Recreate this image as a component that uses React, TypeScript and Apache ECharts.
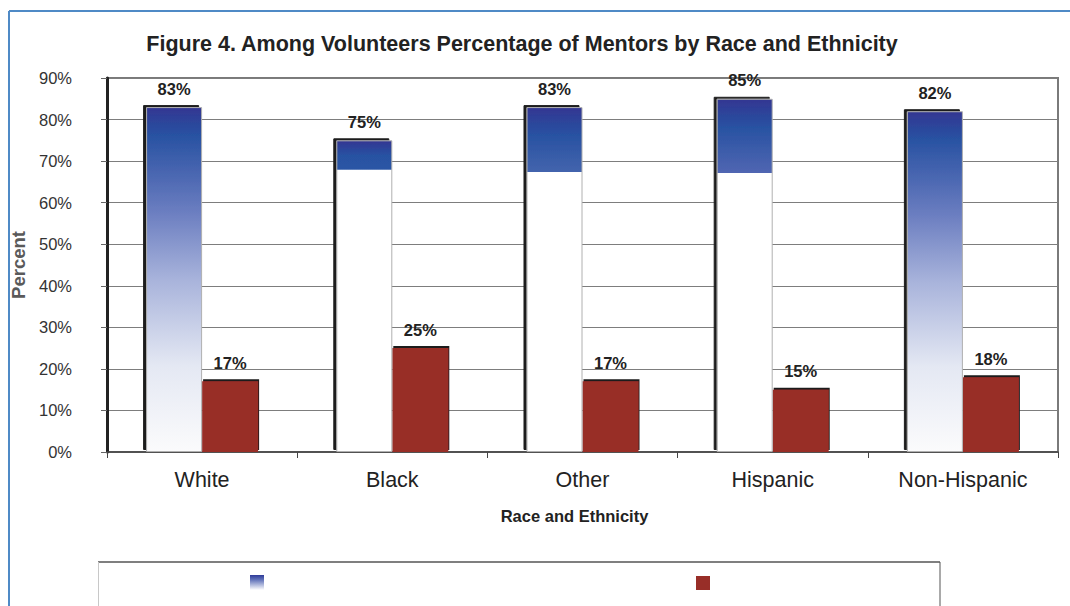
import React, { useEffect, useRef } from 'react';
import * as echarts from 'echarts';

const categories = ['White', 'Black', 'Other', 'Hispanic', 'Non-Hispanic'];
const mentorValues = [83, 75, 83, 85, 82];
const otherValues = [17, 25, 17, 15, 18];
const yMin = 0;
const yMax = 90;
const yInterval = 10;

// style only: fraction of each blue bar (from the top) that carries the gradient, and colour at that cut
const gradientCut = [1, 0.093, 0.187, 0.21, 1];
const cutColor = ['', '#2a55a5', '#4364ad', '#5066b2', ''];

const DARK = '#323692';

function blueFill(i: number) {
  const cut = gradientCut[i];
  if (cut >= 1) {
    return new echarts.graphic.LinearGradient(0, 0, 0, 1, [
      { offset: 0, color: DARK },
      { offset: 0.08, color: '#2852a2' },
      { offset: 0.2, color: '#4c68b2' },
      { offset: 0.3, color: '#6a7dc0' },
      { offset: 0.5, color: '#a8b3db' },
      { offset: 0.75, color: '#e4e8f3' },
      { offset: 1, color: '#fbfbfc' },
    ]);
  }
  return new echarts.graphic.LinearGradient(0, 0, 0, 1, [
    { offset: 0, color: DARK },
    { offset: Math.min(0.08, cut * 0.5), color: '#2852a2' },
    { offset: cut - 0.001, color: cutColor[i] },
    { offset: cut, color: '#ffffff' },
    { offset: 1, color: '#ffffff' },
  ]);
}

export default function App() {
  const ref = useRef<HTMLDivElement>(null);
  useEffect(() => {
    document.body.style.margin = '0';
    const chart = echarts.init(ref.current!, null, { renderer: 'svg' });
    const font = '"Liberation Sans", Arial, sans-serif';
    const barLabel = {
      show: true,
      position: 'top',
      distance: 10,
      formatter: '{c}%',
      fontSize: 16.5,
      fontWeight: 'bold',
      color: '#222',
      fontFamily: font,
    };
    chart.setOption({
      animation: false,
      backgroundColor: '#ffffff',
      textStyle: { fontFamily: font },
      title: {
        text: 'Figure 4. Among Volunteers Percentage of Mentors by Race and Ethnicity',
        left: 517,
        top: 28,
        textAlign: 'center',
        textStyle: { fontSize: 21.5, fontWeight: 'bold', color: '#222', fontFamily: font },
      },
      grid: {
        left: 107,
        right: 12,
        top: 78,
        bottom: 154,
        show: true,
        borderColor: '#7a7a7a',
        borderWidth: 2,
        backgroundColor: 'transparent',
      },
      xAxis: {
        type: 'category',
        data: categories,
        name: 'Race and Ethnicity',
        nameLocation: 'middle',
        nameGap: 55,
        nameTextStyle: { fontSize: 16.5, fontWeight: 'bold', color: '#222', fontFamily: font, padding: [0, 16, 0, 0] },
        axisLine: { lineStyle: { color: '#444', width: 1.5 } },
        axisTick: { show: true, length: 6, lineStyle: { color: '#444' } },
        axisLabel: { fontSize: 21.5, color: '#222', margin: 17, fontFamily: font },
      },
      yAxis: {
        type: 'value',
        min: yMin,
        max: yMax,
        interval: yInterval,
        name: 'Percent',
        nameLocation: 'middle',
        nameRotate: 90,
        nameGap: 79,
        nameTextStyle: { fontSize: 18.5, fontWeight: 'bold', color: '#5a5a5a', fontFamily: font },
        axisLine: { show: true, lineStyle: { color: '#222', width: 3 } },
        axisTick: { show: true, length: 6, lineStyle: { color: '#666' } },
        axisLabel: { formatter: '{value}%', fontSize: 16.5, color: '#333', margin: 35, fontFamily: font },
        splitLine: { lineStyle: { color: '#7d7d7d', width: 1 } },
      },
      series: [
        {
          name: 'Mentors',
          type: 'bar',
          barWidth: 56,
          barGap: '0%',
          data: mentorValues.map((v, i) => ({ value: v, itemStyle: { color: blueFill(i) } })),
          itemStyle: {
            borderColor: '#b0b0b0',
            borderWidth: 1,
            shadowColor: '#1e1e1e',
            shadowOffsetX: -3,
            shadowOffsetY: -2,
            shadowBlur: 0,
          },
          label: barLabel,
          z: 3,
        },
        {
          name: 'Non-Mentors',
          type: 'bar',
          barWidth: 56,
          barGap: '0%',
          data: otherValues,
          itemStyle: {
            color: '#982e28',
            shadowColor: '#1e1e1e',
            shadowOffsetX: 1,
            shadowOffsetY: -2,
            shadowBlur: 0,
          },
          label: barLabel,
          z: 2,
        },
      ],
      graphic: [
        { type: 'line', shape: { x1: 9, y1: 11, x2: 1070, y2: 11 }, style: { stroke: '#4f8ac6', lineWidth: 2 } },
        { type: 'line', shape: { x1: 9, y1: 11, x2: 9, y2: 606 }, style: { stroke: '#4f8ac6', lineWidth: 2 } },
        { type: 'rect', shape: { x: 98, y: 562, width: 842, height: 50 }, style: { fill: '#ffffff', stroke: null } },
        { type: 'line', shape: { x1: 98, y1: 562, x2: 940, y2: 562 }, style: { stroke: '#555', lineWidth: 1.5 } },
        { type: 'line', shape: { x1: 98.5, y1: 562, x2: 98.5, y2: 606 }, style: { stroke: '#c8c8c8', lineWidth: 1 } },
        { type: 'line', shape: { x1: 940, y1: 562, x2: 940, y2: 606 }, style: { stroke: '#555', lineWidth: 1 } },
        {
          type: 'rect',
          shape: { x: 250, y: 575, width: 14, height: 15 },
          style: {
            fill: new echarts.graphic.LinearGradient(0, 0, 0, 1, [
              { offset: 0, color: '#2f3a98' },
              { offset: 0.3, color: '#5e70b8' },
              { offset: 1, color: '#ffffff' },
            ]),
          },
        },
        { type: 'rect', shape: { x: 696, y: 576, width: 14, height: 14 }, style: { fill: '#982e28' } },
      ],
    });
    return () => chart.dispose();
  }, []);
  return <div ref={ref} style={{ width: 1070, height: 606 }} />;
}
